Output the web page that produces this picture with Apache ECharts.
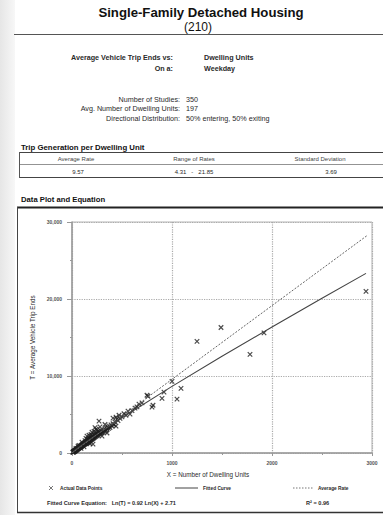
<!DOCTYPE html>
<html>
<head>
<meta charset="utf-8">
<script src="https://cdn.jsdelivr.net/npm/echarts@6/dist/echarts.min.js"></script>
<style>
  html, body { margin: 0; padding: 0; background: #fff; }
  #chart { width: 383px; height: 515px; }
</style>
</head>
<body>
<div id="chart"></div>
<script>
// data
const dwellingUnits = [
  8, 12, 15, 18, 20, 22, 25, 28, 30, 32, 35, 38, 40, 42, 45, 48, 50, 52, 55, 58,
  60, 62, 65, 68, 70, 72, 75, 78, 80, 82, 85, 88, 90, 92, 95, 98, 100, 102, 105, 108,
  110, 112, 115, 118, 120, 122, 125, 128, 130, 132, 135, 138, 140, 142, 145, 148, 150, 152, 155, 158,
  160, 162, 165, 168, 170, 172, 175, 178, 180, 182, 185, 188, 190, 192, 195, 198, 200, 202, 205, 208,
  210, 212, 215, 218, 220, 225, 228, 230, 235, 238, 240, 245, 248, 250, 255, 258, 260, 265, 270, 275,
  280, 285, 290, 295, 300, 305, 310, 320, 325, 330, 340, 345, 350, 360, 365, 375, 380, 390, 400, 410,
  420, 430, 440, 450, 460, 470, 480, 500, 520, 540, 560, 580, 600, 630, 650, 670, 700, 750, 760, 800,
  810, 900, 920, 1000, 1050, 1090, 1250, 1490, 1780, 1920, 2940,
  270, 410, 440, 160, 260, 210, 150, 200, 230,
  100, 120, 140, 180, 220, 60, 90, 170, 250, 300, 330, 350, 40, 70, 130, 190, 240, 280
]
const tripEnds = [
  95, 130, 120, 190, 210, 180, 260, 240, 330, 290, 380, 340, 420, 360, 480, 430, 520, 470, 600, 540,
  610, 560, 700, 620, 690, 760, 720, 800, 740, 880, 810, 860, 950, 830, 900, 1010, 960, 1080, 1000, 1040,
  1150, 1020, 1120, 1210, 1100, 1180, 1300, 1150, 1240, 1360, 1220, 1300, 1420, 1280, 1390, 1500, 1350, 1450, 1560, 1420,
  1500, 1640, 1480, 1580, 1700, 1550, 1650, 1780, 1620, 1720, 1850, 1700, 1790, 1920, 1760, 1880, 2000, 1830, 1950, 2080,
  1900, 2050, 2150, 1980, 2100, 2250, 2080, 2200, 2350, 2150, 2280, 2420, 2250, 2380, 2500, 2320, 2450, 2600, 2480, 2650,
  2550, 2720, 2600, 2800, 2700, 2880, 2780, 3000, 2850, 3100, 2950, 3250, 3100, 3400, 3200, 3500, 3300, 3650, 3500, 3800,
  3650, 4000, 4660, 4400, 4200, 4900, 4500, 4700, 5100, 4900, 5430, 5050, 5500, 5820, 6000, 6340, 6500, 7500, 7370, 5950,
  6200, 7100, 7900, 9300, 7000, 8400, 14490, 16300, 12800, 15600, 21000,
  4140, 4530, 3500, 1810, 2850, 1160, 2200, 2700, 3300,
  1400, 800, 1900, 1200, 2800, 900, 600, 2300, 3000, 2200, 3700, 2600, 600, 1000, 1600, 2400, 3100, 3400
]
const fittedX = [10, 50, 100, 250, 500, 1000, 1500, 2000, 2500, 2940]
const fittedT = [125, 550, 1040, 2415, 4570, 8650, 12560, 16360, 20090, 23330]
const avgRateX = [0, 2950]
const avgRateT = [0, 28230]

const tableHeaders = ['Average Rate', 'Range of Rates', 'Standard Deviation']
const tableValues = ['9.57', '4.31   -   21.85', '3.69']

const FONT = '"Liberation Sans", Arial, sans-serif'
const INK = '#2a2a2a'

const chart = echarts.init(document.getElementById('chart'), null, { renderer: 'svg' })

const txt = (text, x, y, size, opts = {}) => ({
  type: 'text',
  silent: true,
  style: {
    text,
    x,
    y,
    font: `${opts.bold ? 'bold ' : ''}${size}px ${FONT}`,
    fill: opts.color || INK,
    textAlign: opts.align || 'left',
    textVerticalAlign: 'middle',
  },
})
const line = (x1, y1, x2, y2, stroke, lineWidth = 1, lineDash = null) => ({
  type: 'line',
  silent: true,
  shape: { x1, y1, x2, y2 },
  style: { stroke, lineWidth, lineDash },
})

const headerCenters = [76, 194, 320]
const valueCenters = [78, 194, 331]

const graphics = [
  // page shadow on the left
  {
    type: 'rect',
    silent: true,
    shape: { x: 0, y: 0, width: 15, height: 515 },
    style: {
      fill: new echarts.graphic.LinearGradient(0, 0, 1, 0, [
        { offset: 0, color: '#e6e6e6' },
        { offset: 1, color: '#f7f7f7' },
      ]),
    },
  },
  txt('Single-Family Detached Housing', 201, 12, 13.2, { bold: true, color: '#111', align: 'center' }),
  txt('(210)', 198, 26.5, 12, { color: '#111', align: 'center' }),
  line(14, 34.5, 383, 34.5, '#555', 1),

  txt('Average Vehicle Trip Ends vs:', 173, 57, 7.2, { bold: true, align: 'right' }),
  txt('Dwelling Units', 204, 57, 7.2, { bold: true }),
  txt('On a:', 173, 68, 7.2, { bold: true, align: 'right' }),
  txt('Weekday', 204, 68, 7.2, { bold: true }),

  txt('Number of Studies:', 180, 99, 7.2, { align: 'right' }),
  txt('350', 186, 99, 7.2),
  txt('Avg. Number of Dwelling Units:', 180, 108.5, 7.2, { align: 'right' }),
  txt('197', 186, 108.5, 7.2),
  txt('Directional Distribution:', 180, 118, 7.2, { align: 'right' }),
  txt('50% entering, 50% exiting', 186, 118, 7.2),

  txt('Trip Generation per Dwelling Unit', 21, 147, 7.8, { bold: true, color: '#111' }),
  line(19, 152.5, 383, 152.5, '#444', 1),
  line(19, 164.5, 383, 164.5, '#777', 0.8),
  line(19, 177.5, 383, 177.5, '#444', 1),
  line(19.5, 152, 19.5, 178, '#555', 1),
  ...tableHeaders.map((h, i) => txt(h, headerCenters[i], 158.5, 6, { align: 'center', color: '#444' })),
  ...tableValues.map((v, i) => txt(v, valueCenters[i], 171.5, 6, { align: 'center' })),

  txt('Data Plot and Equation', 21, 199, 7.7, { bold: true, color: '#111' }),
  // frame around the plot block
  line(17, 207.5, 383, 207.5, '#222', 2),
  line(17.5, 207, 17.5, 513, '#444', 1),
  line(17, 512.5, 383, 512.5, '#333', 1.5),

  txt('X = Number of Dwelling Units', 208, 474, 6.3, { align: 'center' }),

  // legend
  line(49, 486, 53, 490, '#555', 0.8),
  line(53, 486, 49, 490, '#555', 0.8),
  txt('Actual Data Points', 60, 488, 4.8, { bold: true }),
  line(175, 488, 198, 488, '#444', 1),
  txt('Fitted Curve', 203, 488, 4.8, { bold: true }),
  line(293, 488, 313, 488, '#777', 1, [1.5, 1.5]),
  txt('Average Rate', 318, 488, 4.8, { bold: true }),

  txt('Fitted Curve Equation:   Ln(T) = 0.92 Ln(X) + 2.71', 47, 502.5, 5.6, { bold: true }),
  txt('R² = 0.96', 306, 502.5, 5.6, { bold: true }),
]

const option = {
  animation: false,
  backgroundColor: '#fff',
  grid: {
    left: 72,
    top: 222,
    width: 300,
    height: 231,
    show: true,
    borderColor: '#b5b5b5',
    borderWidth: 1,
  },
  xAxis: {
    type: 'value',
    min: 0,
    max: 3000,
    interval: 1000,
    axisLine: { lineStyle: { color: '#9a9a9a', width: 1.5 } },
    axisTick: { show: true, length: 3, lineStyle: { color: '#999' } },
    minorTick: { show: true, splitNumber: 2, length: 2, lineStyle: { color: '#999' } },
    axisLabel: {
      fontSize: 5,
      fontWeight: 'bold',
      color: '#555',
      margin: 7,
      fontFamily: FONT,
      formatter: (v) => String(v),
    },
    splitLine: { show: true, lineStyle: { type: 'dotted', color: '#aaa', width: 1.2 } },
  },
  yAxis: {
    type: 'value',
    min: 0,
    max: 30000,
    interval: 10000,
    name: 'T = Average Vehicle Trip Ends',
    nameLocation: 'middle',
    nameGap: 36,
    nameTextStyle: { fontSize: 6.3, color: INK, fontFamily: FONT },
    axisLine: { show: true, lineStyle: { color: '#9a9a9a', width: 1.5 } },
    axisTick: { show: true, length: 5, lineStyle: { color: '#999' } },
    minorTick: { show: true, splitNumber: 2, length: 2, lineStyle: { color: '#999' } },
    axisLabel: {
      fontSize: 5,
      fontWeight: 'bold',
      color: '#555',
      margin: 10,
      fontFamily: FONT,
      formatter: (v) => v.toLocaleString('en-US'),
    },
    splitLine: { show: true, lineStyle: { type: 'dotted', color: '#aaa', width: 1.2 } },
  },
  series: [
    {
      name: 'Actual Data Points',
      type: 'scatter',
      symbol: 'path://M0,0L10,10M10,0L0,10',
      symbolSize: 4.5,
      itemStyle: { color: 'none', borderColor: '#1e1e1e', borderWidth: 1.2 },
      data: dwellingUnits.map((x, i) => [x, tripEnds[i]]),
      z: 3,
    },
    {
      name: 'Fitted Curve',
      type: 'line',
      symbol: 'none',
      smooth: false,
      lineStyle: { color: '#444', width: 1.1 },
      data: fittedX.map((x, i) => [x, fittedT[i]]),
      z: 4,
    },
    {
      name: 'Average Rate',
      type: 'line',
      symbol: 'none',
      lineStyle: { color: '#666', width: 1, type: [2, 1.5] },
      data: avgRateX.map((x, i) => [x, avgRateT[i]]),
      z: 4,
    },
  ],
  graphic: graphics,
}

chart.setOption(option)
</script>
</body>
</html>
